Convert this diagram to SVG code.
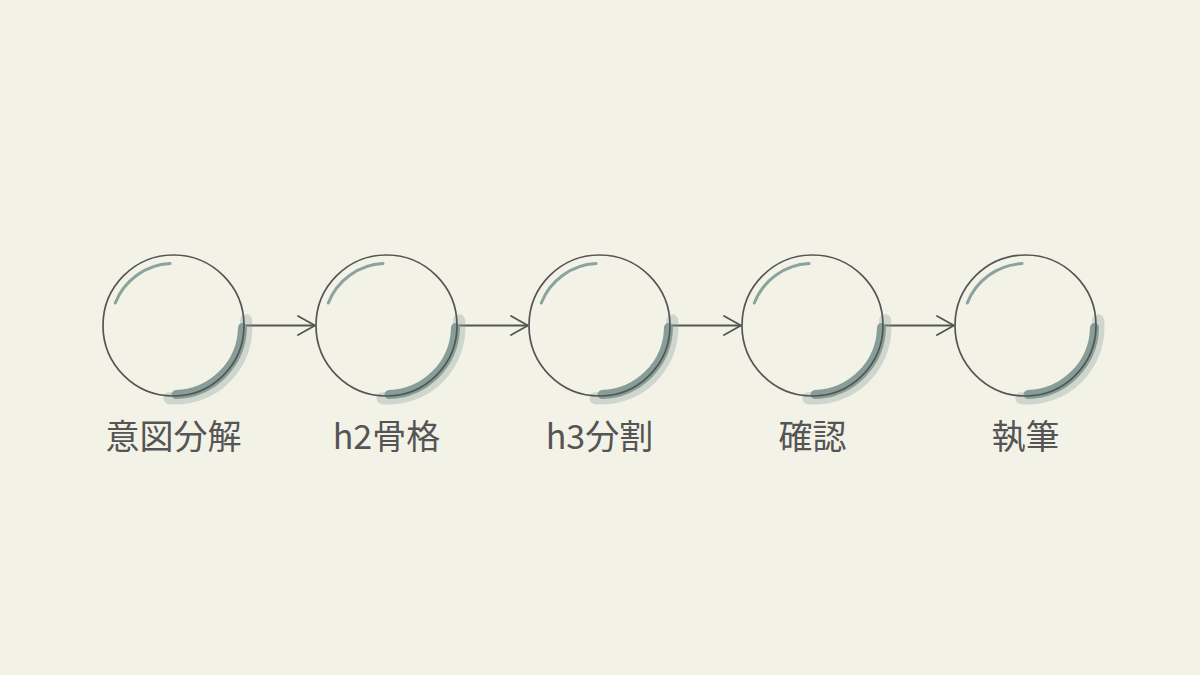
<svg xmlns="http://www.w3.org/2000/svg" width="1200" height="675" viewBox="0 0 1200 675">
<defs>
<marker id="ah" viewBox="0 0 20 22" refX="18" refY="11" markerWidth="20" markerHeight="22" markerUnits="userSpaceOnUse" orient="auto">
<path d="M1,1.5 L18,11 L1,20.5" fill="none" stroke="#555" stroke-width="1.8" stroke-linecap="round" stroke-linejoin="round"/>
</marker>
<g id="bubble">
<path d="M 72.6 -5.3 A 71 71 0 0 1 -4.1 72.7" fill="none" stroke="#8a9f99" stroke-width="12" stroke-opacity="0.33" stroke-linecap="round"/>
<path d="M 69 2 A 68.5 68.5 0 0 1 2.5 69" fill="none" stroke="#879d97" stroke-width="9" stroke-linecap="round"/>
<path d="M -58.2 -22.5 A 62 62 0 0 1 -3.5 -61.9" fill="none" stroke="#8aa39e" stroke-width="3" stroke-linecap="round"/>
<circle cx="0" cy="0" r="70.5" fill="none" stroke="#555" stroke-width="1.7"/>
</g>
</defs>
<style>
.lbl{font-family:"Noto Sans CJK JP","Noto Sans",sans-serif;font-size:34px;fill:#555;text-anchor:middle}
.con{stroke:#555;stroke-width:1.8;fill:none}
</style>
<rect width="1200" height="675" fill="#f2f2e7"/>
<g id="connectors">
<line class="con" x1="244" y1="325.5" x2="315" y2="325.5" marker-end="url(#ah)"/>
<line class="con" x1="457" y1="325.5" x2="528" y2="325.5" marker-end="url(#ah)"/>
<line class="con" x1="670" y1="325.5" x2="741" y2="325.5" marker-end="url(#ah)"/>
<line class="con" x1="883" y1="325.5" x2="954" y2="325.5" marker-end="url(#ah)"/>
</g>
<g id="n1"><use href="#bubble" x="173.5" y="325.5"/><text class="lbl" x="173.5" y="449">意図分解</text></g>
<g id="n2"><use href="#bubble" x="386.5" y="325.5"/><text class="lbl" x="386.5" y="449">h2骨格</text></g>
<g id="n3"><use href="#bubble" x="599.5" y="325.5"/><text class="lbl" x="599.5" y="449">h3分割</text></g>
<g id="n4"><use href="#bubble" x="812.5" y="325.5"/><text class="lbl" x="812.5" y="449">確認</text></g>
<g id="n5"><use href="#bubble" x="1025.5" y="325.5"/><text class="lbl" x="1025.5" y="449">執筆</text></g>
</svg>
